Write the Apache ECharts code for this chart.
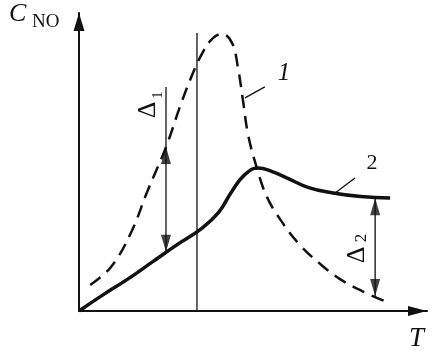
<!DOCTYPE html>
<html>
<head>
<meta charset="utf-8">
<script src="https://cdn.jsdelivr.net/npm/echarts@6/dist/echarts.min.js"></script>
<style>html,body{margin:0;padding:0;background:#fff}#c{width:439px;height:360px}</style>
</head>
<body>
<div id="c"></div>
<script>
// Curve 1 (dashed): [T, C_NO] in relative units 0..100
const curve1 = [
  [3.2, 8.7], [9.2, 14.8], [14.9, 26.2], [19.8, 40.6], [25.0, 55.0], [29.0, 68.5],
  [32.5, 79.2], [35.6, 86.9], [38.5, 91.6], [41.1, 93.0], [44.0, 89.9], [45.7, 81.5],
  [47.1, 70.8], [48.6, 59.1], [51.1, 48.0], [54.0, 38.3], [58.3, 29.9], [63.5, 22.1],
  [69.3, 15.8], [75.0, 10.7], [81.3, 6.7], [88.5, 3.0]
];
// Curve 2 (solid)
const curve2 = [
  [0, 0], [7, 5.5], [14, 10.7], [21, 16.4], [28, 22.1], [35, 27.5], [40, 32.9],
  [44, 40.3], [47.5, 45.6], [51.4, 48.0], [55.5, 46.8], [60, 44.5], [66, 41.4],
  [73, 39.6], [81, 38.4], [89.4, 37.9]
];
// Reference vertical line
const vLine = [[33.9, 0], [33.9, 93.3]];
// Delta shafts
const delta1Shaft = [[25.0, 75.2], [25.0, 19.8]];
const delta2Shaft = [[85.1, 37.9], [85.1, 5.0]];
// Arrowhead centres
const arrowsUp = [[25.0, 52.2], [85.1, 35.0]];
const arrowsDown = [[25.0, 22.7], [85.1, 7.9]];
// Leader lines for curve labels
const leader1 = [[47.7, 71.5], [53.4, 75.2]];
const leader2 = [[73.6, 39.6], [79.3, 44.6]];

const FONT = '"Liberation Serif", "Times New Roman", serif';
const INK = '#111';

const chart = echarts.init(document.getElementById('c'), null, {renderer: 'canvas'});

function plain(data, width) {
  return {
    type: 'line', data: data, showSymbol: false, silent: true, animation: false,
    lineStyle: {color: INK, width: width}, z: 3
  };
}
function heads(data, rot) {
  return {
    type: 'scatter', data: data, symbol: 'triangle', symbolSize: [10, 17],
    symbolRotate: rot, silent: true, animation: false,
    itemStyle: {color: INK}, z: 6
  };
}

chart.setOption({
  animation: false,
  backgroundColor: '#fff',
  grid: {left: 79, right: 12, top: 13, bottom: 49},
  xAxis: {
    type: 'value', min: 0, max: 100,
    axisLine: {show: true, lineStyle: {color: INK, width: 2},
      symbol: ['none', 'triangle'], symbolSize: [10, 19], symbolOffset: [0, -9.5]},
    axisTick: {show: false}, axisLabel: {show: false}, splitLine: {show: false}
  },
  yAxis: {
    type: 'value', min: 0, max: 100,
    axisLine: {show: true, lineStyle: {color: INK, width: 2},
      symbol: ['none', 'triangle'], symbolSize: [11, 18], symbolOffset: [0, -9]},
    axisTick: {show: false}, axisLabel: {show: false}, splitLine: {show: false}
  },
  series: [
    {
      type: 'line', data: curve1, smooth: 0.4, showSymbol: false, silent: true,
      lineStyle: {color: INK, width: 2.5, type: [13, 8], cap: 'butt'}, z: 4
    },
    {
      type: 'line', data: curve2, smooth: 0.45, showSymbol: false, silent: true,
      lineStyle: {color: INK, width: 3.5}, z: 5
    },
    plain(vLine, 1.3),
    plain(delta1Shaft, 1.3),
    plain(delta2Shaft, 1.3),
    plain(leader1, 1.3),
    plain(leader2, 1.3),
    heads(arrowsUp, 0),
    heads(arrowsDown, 180)
  ]
});

function txt(text, x, y, size, opts) {
  opts = opts || {};
  return {
    type: 'text', x: x, y: y, rotation: opts.rotation || 0, silent: true,
    style: {
      text: text, fill: INK, font: (opts.italic ? 'italic ' : '') + size + 'px ' + FONT,
      align: opts.align || 'center', verticalAlign: 'middle'
    }
  };
}

chart.setOption({
  graphic: [
    txt('C', 9, 14, 26, {italic: true, align: 'left'}),
    txt('NO', 32, 22, 19, {align: 'left'}),
    txt('T', 409, 339, 27, {italic: true, align: 'left'}),
    txt('1', 284, 73, 25, {italic: true}),
    txt('2', 372, 163, 22),
    txt('Δ', 148, 110, 26, {rotation: Math.PI / 2}),
    txt('1', 158, 95, 15, {rotation: Math.PI / 2}),
    txt('Δ', 357, 255, 26, {rotation: Math.PI / 2}),
    txt('2', 362, 238, 17, {rotation: Math.PI / 2})
  ]
});
</script>
</body>
</html>
